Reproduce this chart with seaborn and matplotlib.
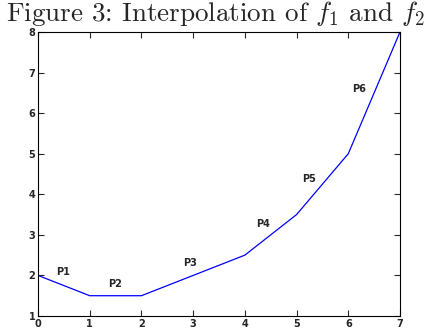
import matplotlib
matplotlib.use("Agg")
import matplotlib.pyplot as plt
import seaborn as sns
import pandas as pd

# data
x_vals = [0, 1, 2, 3, 4, 5, 6, 7]
y_vals = [2, 1.5, 1.5, 2, 2.5, 3.5, 5, 8]
point_names = ["P1", "P2", "P3", "P4", "P5", "P6"]
label_x = [0.48, 1.49, 2.94, 4.35, 5.24, 6.21]
label_y = [2.08, 1.79, 2.30, 3.27, 4.37, 6.59]
x_ticks = [0, 1, 2, 3, 4, 5, 6, 7]
y_ticks = [1, 2, 3, 4, 5, 6, 7, 8]

df = pd.DataFrame({"x": x_vals, "y": y_vals})

sns.set_style("ticks")
plt.rcParams["font.family"] = ["DejaVu Sans"]
plt.rcParams["mathtext.fontset"] = "cm"

fig = plt.figure(figsize=(4.32, 3.30), dpi=100)
ax = fig.add_axes([38 / 432, 14 / 330, 362 / 432, 284 / 330])

sns.lineplot(data=df, x="x", y="y", ax=ax, color="blue", linewidth=0.9)

for name, lx, ly in zip(point_names, label_x, label_y):
    ax.text(lx, ly, name, ha="center", va="center", fontsize=7, fontweight="bold")

ax.set_xlim(0, 7)
ax.set_ylim(1, 8)
ax.set_xticks(x_ticks, labels=[str(t) for t in x_ticks], fontweight="bold", fontsize=7)
ax.set_yticks(y_ticks, labels=[str(t) for t in y_ticks], fontweight="bold", fontsize=7)
ax.set_xlabel("")
ax.set_ylabel("")
ax.tick_params(direction="in", length=4, width=0.8, pad=2,
               top=True, right=True)
for sp in ax.spines.values():
    sp.set_visible(True)
    sp.set_linewidth(0.8)
    sp.set_color("black")

fig.text(0.5, 1.004, r"Figure 3: Interpolation of $f_1$ and $f_2$",
         ha="center", va="top", fontsize=19.5, family="cmr10")

fig.savefig("out.png", dpi=100)
